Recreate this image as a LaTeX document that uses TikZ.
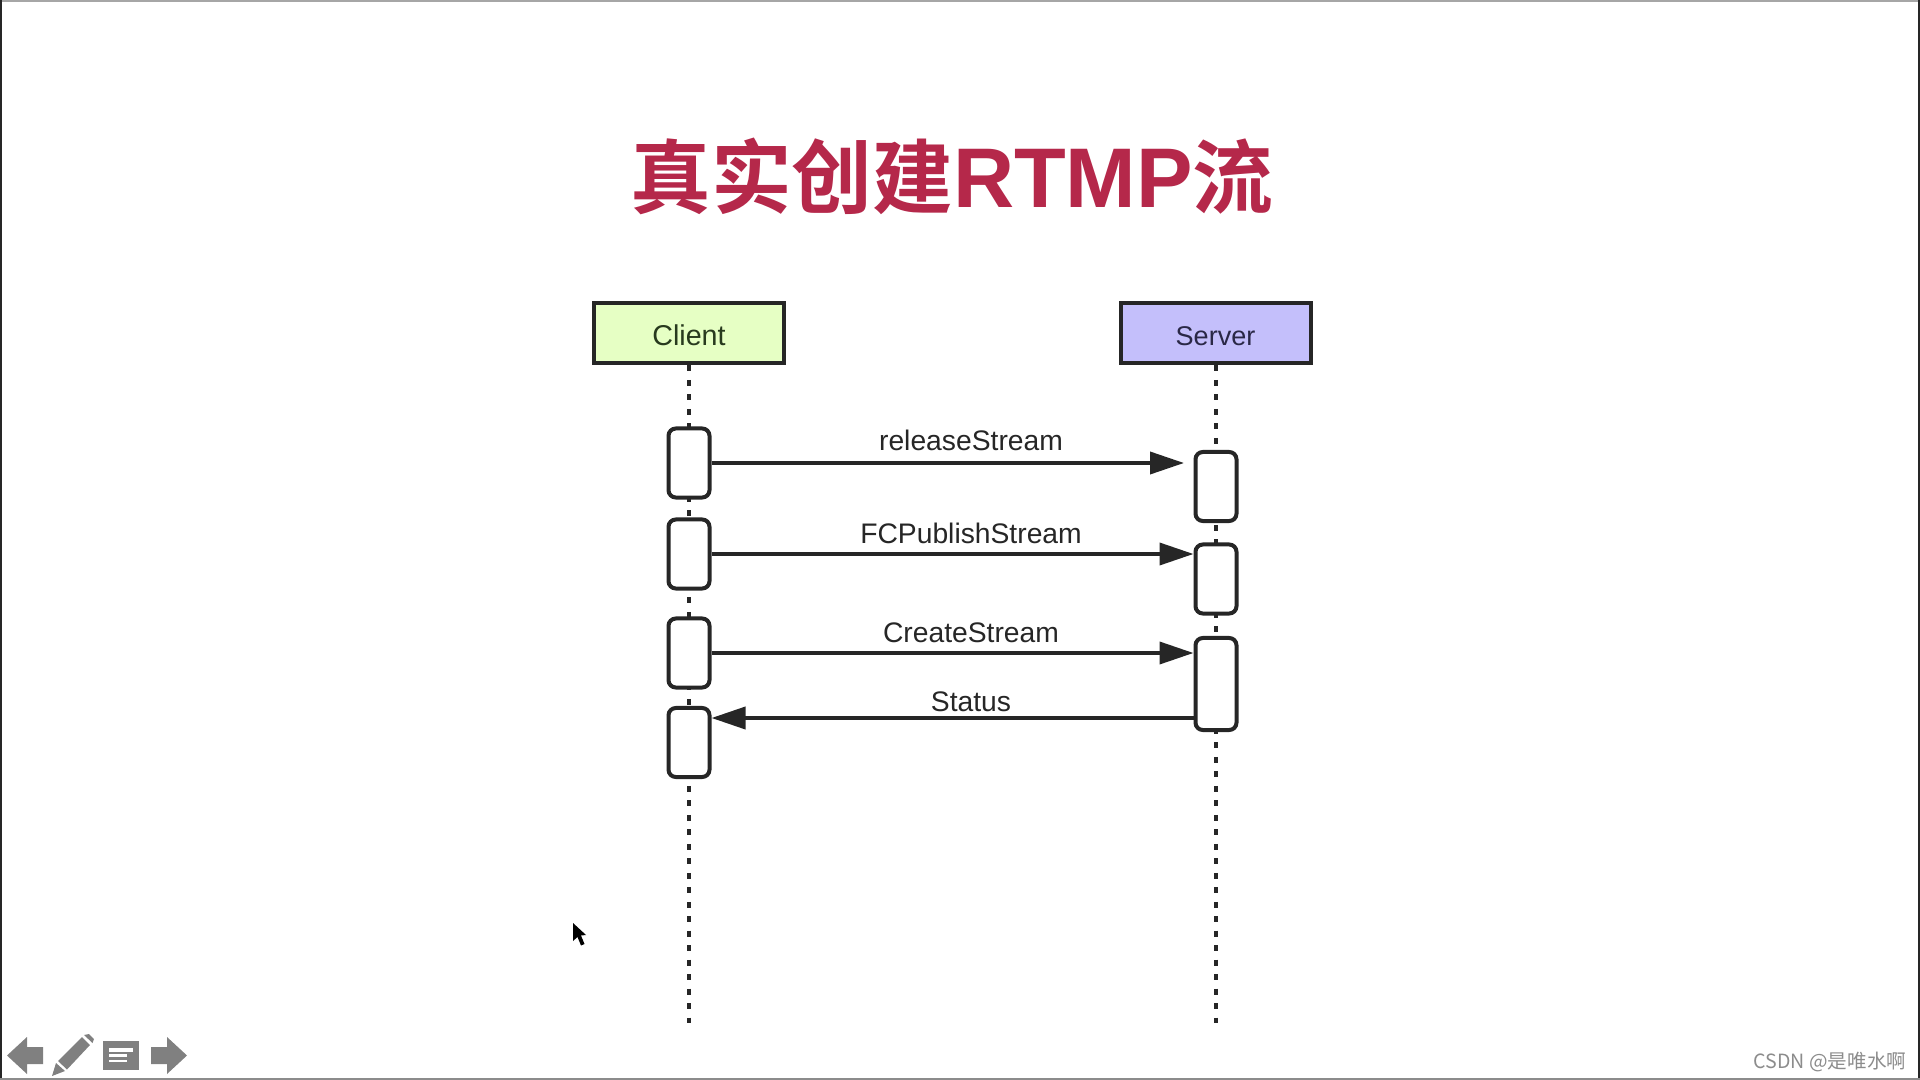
\documentclass[tikz,border=0pt]{standalone}
\usepackage{fontspec}
\setmainfont{Liberation Sans}
\newfontfamily\cjkbold{Noto Sans CJK SC Bold}
\newfontfamily\cjkmark{Noto Sans CJK SC}
\usepackage{xcolor}
\usetikzlibrary{arrows.meta}
\definecolor{titlered}{RGB}{181,40,74}
\definecolor{clientgreen}{RGB}{230,255,196}
\definecolor{servermauve}{RGB}{196,191,251}
\definecolor{inkdark}{RGB}{38,38,38}
\definecolor{icongrey}{RGB}{128,128,128}
\tikzset{every picture/.style={line width=0.75pt}}
\tikzset{
  headbox/.style={draw=inkdark,line width=3pt,minimum width=142.5pt,minimum height=45pt,inner sep=0pt,text height=18.9pt,text depth=1pt},
  actbox/.style={draw=inkdark,fill=white,line width=3pt,rounded corners=5.5pt,minimum width=41pt/1.333,inner sep=0pt},
  lifeline/.style={draw=inkdark,line width=3pt,dash pattern=on 4.5pt off 6.37pt},
  msgline/.style={draw=inkdark,line width=2.8pt,-{Triangle[length=25.5pt,width=16.5pt]}},
  msglabel/.style={inner sep=0pt,text=inkdark,font=\fontsize{21.2}{24}\selectfont},
}
\begin{document}
\begin{tikzpicture}[x=0.75pt,y=0.75pt,yscale=-1,xscale=1]
\useasboundingbox (0,0) rectangle (1920,1080);

%Window edges
\fill [black!35] (0,0) rectangle (1920,2) ;
\fill [black!85] (0,0) rectangle (1.5,1080) ;
\fill [black!85] (1918,0) rectangle (1920,1080) ;
\fill [black!45] (0,1078) rectangle (1920,1080) ;

% Text Node
\node (titleText) at (952,176) [inner sep=0pt,text=titlered,font=\fontsize{60.5}{70}\selectfont\cjkbold] {真实创建{\fontsize{63.5}{70}\selectfont\setmainfont{Liberation Sans}\bfseries\rmfamily RTMP}流};

%Heads
\node (clientHead) at (689,333.5) [headbox,fill=clientgreen,text={rgb,255:red,40;green,58;blue,30},font=\fontsize{21.5}{24}\selectfont] {Client};
\node (serverHead) at (1215.5,333.5) [headbox,fill=servermauve,text={rgb,255:red,42;green,40;blue,70},font=\fontsize{20.3}{24}\selectfont] {Server};
\coordinate (clientEnd) at (689,1023);
\coordinate (serverEnd) at (1215.5,1023);

%Lifelines
\draw [lifeline] (clientHead.south) -- (clientEnd) ;
\draw [lifeline] (serverHead.south) -- (serverEnd) ;

%Activations
\node (cOne) at (689,463) [actbox,minimum height=69pt/1.333] {};
\node (cTwo) at (689,554) [actbox,minimum height=69pt/1.333] {};
\node (cThree) at (689,653) [actbox,minimum height=69pt/1.333] {};
\node (cFour) at (689,742.5) [actbox,minimum height=69pt/1.333] {};
\node (sOne) at (1216,486.5) [actbox,minimum height=69pt/1.333] {};
\node (sTwo) at (1216,579) [actbox,minimum height=69pt/1.333] {};
\node (sThree) at (1216,684) [actbox,minimum height=92pt/1.333] {};

%Messages
\coordinate (sOneStop) at (1184,463);
\coordinate (sStatus) at (1194.5,718);
\draw [msgline] (cOne.east) -- (sOneStop) ;
\draw [msgline] (cTwo.east) -- (cTwo -| sTwo.west) ;
\draw [msgline] (cThree.east) -- (cThree -| sThree.west) ;
\draw [msgline] (sStatus) -- (sStatus -| cFour.east) ;

% Text Node
\node (releaseText) at (971,440) [msglabel] {releaseStream};
\node (publishText) at (971,533) [msglabel] {FCPublishStream};
\node (createText) at (971,633) [msglabel] {CreateStream};
\node (statusText) at (971,702) [msglabel] {Status};

%Mouse pointer
\fill [black] (573,923) -- (573,941) -- (577.5,937) -- (581,945.5) -- (584.5,944) -- (581,935.5) -- (586,935) -- cycle ;

%Toolbar
\fill [icongrey] (7,1055.5) -- (27,1037) -- (27,1047) -- (43,1047) -- (43,1064) -- (27,1064) -- (27,1074) -- cycle ;
\fill [icongrey] (52,1076) -- (56,1063) -- (65,1071) -- cycle ;
\fill [icongrey] (58,1061) -- (82,1037) -- (90,1045) -- (67,1069.5) -- cycle ;
\fill [icongrey] (84,1035) -- (89,1034) -- (94,1039) -- (92.5,1043) -- cycle ;
\fill [icongrey] (103,1041) rectangle (138.5,1070) ;
\fill [white] (109,1048) rectangle (133,1052) ;
\fill [white] (109,1054) rectangle (127,1056.5) ;
\fill [white] (109,1060) rectangle (127,1062) ;
\fill [icongrey] (187,1055.5) -- (167,1037) -- (167,1047) -- (151,1047) -- (151,1064) -- (167,1064) -- (167,1074) -- cycle ;

% Text Node
\node (markText) at (1830,1062) [inner sep=0pt,text=black!45,font=\fontsize{14.7}{18}\selectfont\cjkmark] {CSDN @是唯水啊};
\end{tikzpicture}
\end{document}
